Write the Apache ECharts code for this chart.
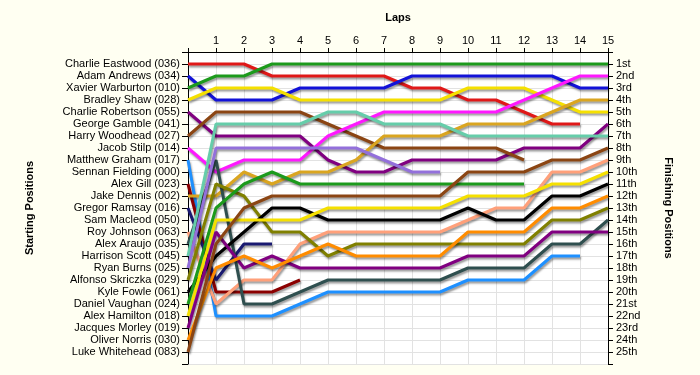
<!DOCTYPE html>
<html><head><meta charset="utf-8">
<script src="https://cdn.jsdelivr.net/npm/echarts@6/dist/echarts.min.js"></script>
<style>html,body{margin:0;padding:0;background:#fffff2}#c{width:700px;height:375px}</style>
</head><body><div id="c"></div>
<script>
// Starting grid order (labels of the left axis)
const drivers = [
  'Charlie Eastwood (036)','Adam Andrews (034)','Xavier Warburton (010)','Bradley Shaw (028)',
  'Charlie Robertson (055)','George Gamble (041)','Harry Woodhead (027)','Jacob Stilp (014)',
  'Matthew Graham (017)','Sennan Fielding (000)','Alex Gill (023)','Jake Dennis (002)',
  'Gregor Ramsay (016)','Sam Macleod (050)','Roy Johnson (063)','Alex Araujo (035)',
  'Harrison Scott (045)','Ryan Burns (025)','Alfonso Skriczka (029)','Kyle Fowle (061)',
  'Daniel Vaughan (024)','Alex Hamilton (018)','Jacques Morley (019)','Oliver Norris (030)',
  'Luke Whitehead (083)'
];
const finishLabels = ['1st','2nd','3rd','4th','5th','6th','7th','8th','9th','10th','11th','12th','13th',
  '14th','15th','16th','17th','18th','19th','20th','21st','22nd','23rd','24th','25th'];
const lapLabels = ['', '1','2','3','4','5','6','7','8','9','10','11','12','13','14','15'];

// Position of each driver at lap 0..15 (missing = retired)
const charlieEastwood  = [1,1,1,2,2,2,2,2,3,3,4,4,5,6,6];
const adamAndrews      = [2,4,4,4,3,3,3,3,2,2,2,2,2,2,3,3];
const xavierWarburton  = [3,2,2,1,1,1,1,1,1,1,1,1,1,1,1,1];
const bradleyShaw      = [4,3,3,3,4,4,4,4,4,4,3,3,3,4,5,5];
const charlieRobertson = [5,7,7,7,7,9,10,10,9,9,9,9,8,8,8,6];
const georgeGamble     = [6];
const harryWoodhead    = [7,5,5,5,5,6,7,8,8,8,8,8,9];
const jacobStilp       = [8,10,9,9,9,7,6,5,5,5,5,5,4,3,2,2];
const matthewGraham    = [9,22,22,22,21,20,20,20,20,20,19,19,19,17,17];
const sennanFielding   = [10];
const alexGill         = [11,20,20,20,19];
const jakeDennis       = [12,12,10,11,10,10,9,7,7,7,6,6,6,5,4,4];
const gregorRamsay     = [13,19,16,16];
const samMacleod       = [14];
const royJohnson       = [15,21,19,19,16,15,15,15,15,15,14,13,13,10,10,9];
const alexAraujo       = [16,9,21,21,20,19,19,19,19,19,18,18,18,16,16,14];
const harrisonScott    = [17,6,6,6,6,5,5,6,6,6,7,7,7,7,7,7];
const ryanBurns        = [18,8,8,8,8,8,8,9,10,10];
const alfonsoSkriczka  = [19,11,12,15,15,17,16,16,16,16,16,16,16,14,14,13];
const kyleFowle        = [20,17,15,13,13,14,14,14,14,14,13,14,14,12,12,11];
const danielVaughan    = [21,13,11,10,11,11,11,11,11,11,11,11,11];
const alexHamilton     = [22,14,14,14,14,13,13,13,13,13,12,12,12,11,11,10];
const jacquesMorley    = [23,15,18,17,18,18,18,18,18,18,17,17,17,15,15,15];
const oliverNorris     = [24,18,17,18,17,16,17,17,17,17,15,15,15,13,13,12];
const lukeWhitehead    = [25,16,13,12,12,12,12,12,12,12,10,10,10,9,9,8];

const raceData = [charlieEastwood, adamAndrews, xavierWarburton, bradleyShaw, charlieRobertson,
  georgeGamble, harryWoodhead, jacobStilp, matthewGraham, sennanFielding, alexGill, jakeDennis,
  gregorRamsay, samMacleod, royJohnson, alexAraujo, harrisonScott, ryanBurns, alfonsoSkriczka,
  kyleFowle, danielVaughan, alexHamilton, jacquesMorley, oliverNorris, lukeWhitehead];

const colors = ['#e01818','#1212d8','#1c9a1c','#f5e000','#800080','#4682b4','#8b4513','#ff18ff',
  '#1e90ff','#cc3333','#8b0000','#daa520','#191970','#888888','#ffa07a','#2f4f4f','#66cdaa',
  '#9370db','#808000','#000000','#1c9a1c','#f5e000','#800080','#ff8c00','#8b4513'];

const series = raceData.map((arr, i) => ({
  type: 'line',
  name: drivers[i],
  data: arr.map((v, lap) => [lap, v]),
  symbol: 'none',
  silent: true,
  lineStyle: {
    width: 3, color: colors[i],
    shadowColor: 'rgba(0,0,0,0.4)', shadowBlur: 2, shadowOffsetX: 1, shadowOffsetY: 2
  },
  z: 3
}));

const chart = echarts.init(document.getElementById('c'), null, {renderer: 'canvas'});
const labelFont = {fontFamily: 'Liberation Sans, Arial, sans-serif', fontSize: 11, color: '#000'};
chart.setOption({
  animation: false,
  backgroundColor: '#fffff2',
  grid: {left: 188, right: 92, top: 52, bottom: 11, show: true, backgroundColor: '#ffffff', borderWidth: 0},
  xAxis: {
    type: 'value', position: 'top', min: 0, max: 15, interval: 1,
    axisLine: {show: true, lineStyle: {color: '#000', width: 1}},
    axisTick: {show: true, length: 4, lineStyle: {color: '#000'}},
    axisLabel: Object.assign({margin: 6, formatter: v => lapLabels[v] || ''}, labelFont),
    splitLine: {show: true, lineStyle: {color: '#e2e2e2'}}
  },
  yAxis: [{
    type: 'value', min: 0, max: 26, interval: 1, inverse: true, position: 'left',
    axisLine: {show: true, onZero: false, lineStyle: {color: '#000'}},
    axisTick: {show: true, length: 6, lineStyle: {color: '#000'}},
    axisLabel: Object.assign({margin: 8, formatter: v => drivers[v - 1] || ''}, labelFont),
    splitLine: {show: true, lineStyle: {color: '#e2e2e2'}}
  }, {
    type: 'value', min: 0, max: 26, interval: 1, inverse: true, position: 'right',
    axisLine: {show: true, onZero: false, lineStyle: {color: '#000'}},
    axisTick: {show: true, length: 5, lineStyle: {color: '#000'}},
    axisLabel: Object.assign({margin: 8, formatter: v => finishLabels[v - 1] || ''}, labelFont),
    splitLine: {show: false}
  }],
  graphic: [
    {type: 'text', x: 398, y: 18, style: {text: 'Laps', font: 'bold 11px Liberation Sans, Arial, sans-serif', fill: '#000', align: 'center', verticalAlign: 'middle'}},
    {type: 'text', x: 30, y: 208, rotation: Math.PI / 2, style: {text: 'Starting Positions', font: 'bold 11px Liberation Sans, Arial, sans-serif', fill: '#000', align: 'center', verticalAlign: 'middle'}},
    {type: 'text', x: 668, y: 208, rotation: -Math.PI / 2, style: {text: 'Finishing Positions', font: 'bold 11px Liberation Sans, Arial, sans-serif', fill: '#000', align: 'center', verticalAlign: 'middle'}}
  ],
  series: series
});
</script></body></html>
